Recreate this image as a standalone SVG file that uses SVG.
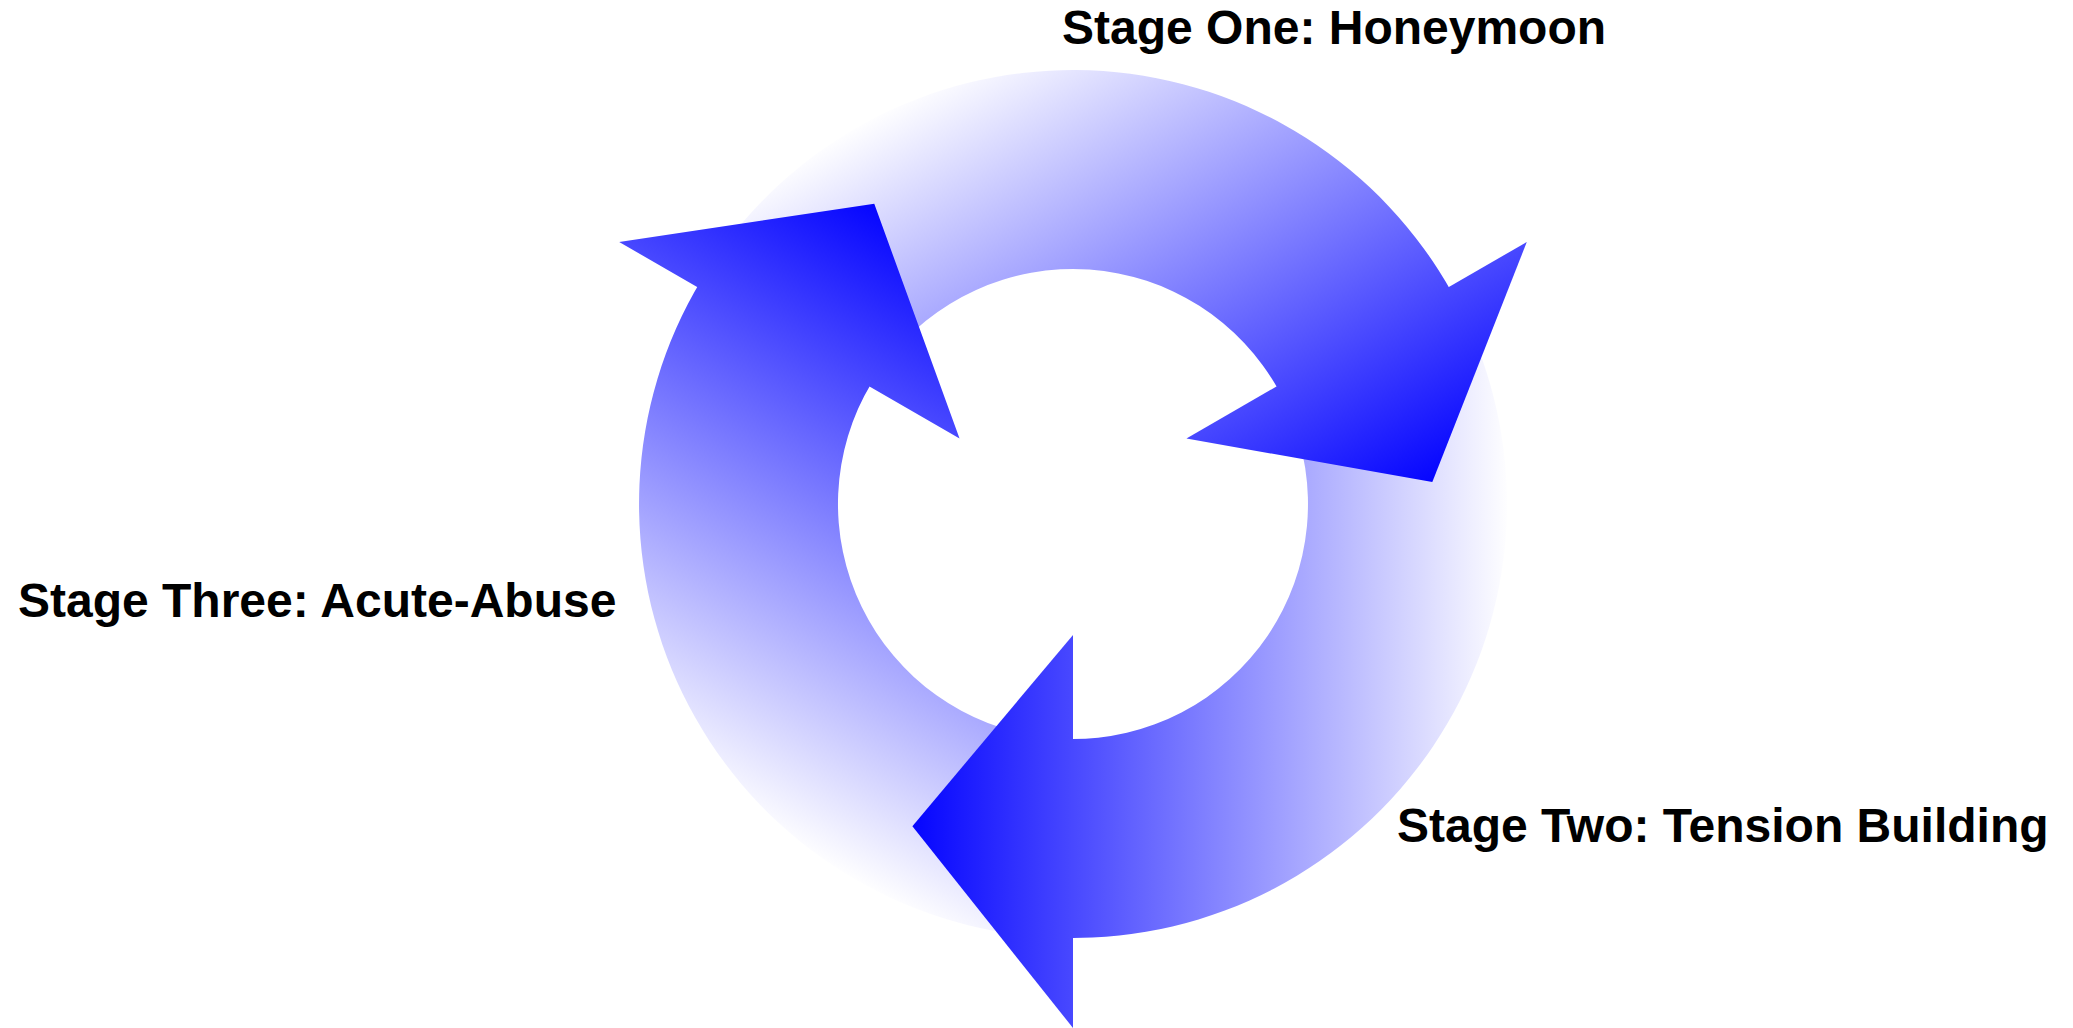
<svg xmlns="http://www.w3.org/2000/svg" width="2073" height="1028" viewBox="0 0 2073 1028">
<style>
.label{font-family:"Liberation Sans",Arial,sans-serif;font-weight:bold;font-size:48px;fill:#000}
.arrow{fill:url(#fade)}
</style>
<defs>
<linearGradient id="fade" gradientUnits="userSpaceOnUse" x1="437" y1="0" x2="-173" y2="0">
<stop offset="0" stop-color="#ffffff"/>
<stop offset="1" stop-color="#0000ff"/>
</linearGradient>
<path id="bandShape" d="M399.5,-169.6 A434,434 0 0 1 -7.6,433.9 L-4.1,235 A235,235 0 0 0 216.3,-91.8 Z"/>
<path id="headShape" d="M0,434 L0,524 L-160.6,322.2 L0,131 L0,235 Z"/>
</defs>
<rect width="2073" height="1028" fill="#ffffff"/>
<g id="connectors">
<g id="arrow-bodies">
<use id="body-honeymoon" href="#bandShape" class="arrow" transform="translate(1073,504) rotate(-120)"/>
<use id="body-tension" href="#bandShape" class="arrow" transform="translate(1073,504)"/>
<use id="body-acute" href="#bandShape" class="arrow" transform="translate(1073,504) rotate(120)"/>
</g>
<g id="arrow-heads">
<use id="head-honeymoon" href="#headShape" class="arrow" transform="translate(1073,504) rotate(-120)"/>
<use id="head-tension" href="#headShape" class="arrow" transform="translate(1073,504)"/>
<use id="head-acute" href="#headShape" class="arrow" transform="translate(1073,504) rotate(120)"/>
</g>
</g>
<g id="stage-one"><text class="label" x="1062" y="44">Stage One: Honeymoon</text></g>
<g id="stage-two"><text class="label" x="1397" y="842">Stage Two: Tension Building</text></g>
<g id="stage-three"><text class="label" x="18" y="617">Stage Three: Acute-Abuse</text></g>
</svg>
